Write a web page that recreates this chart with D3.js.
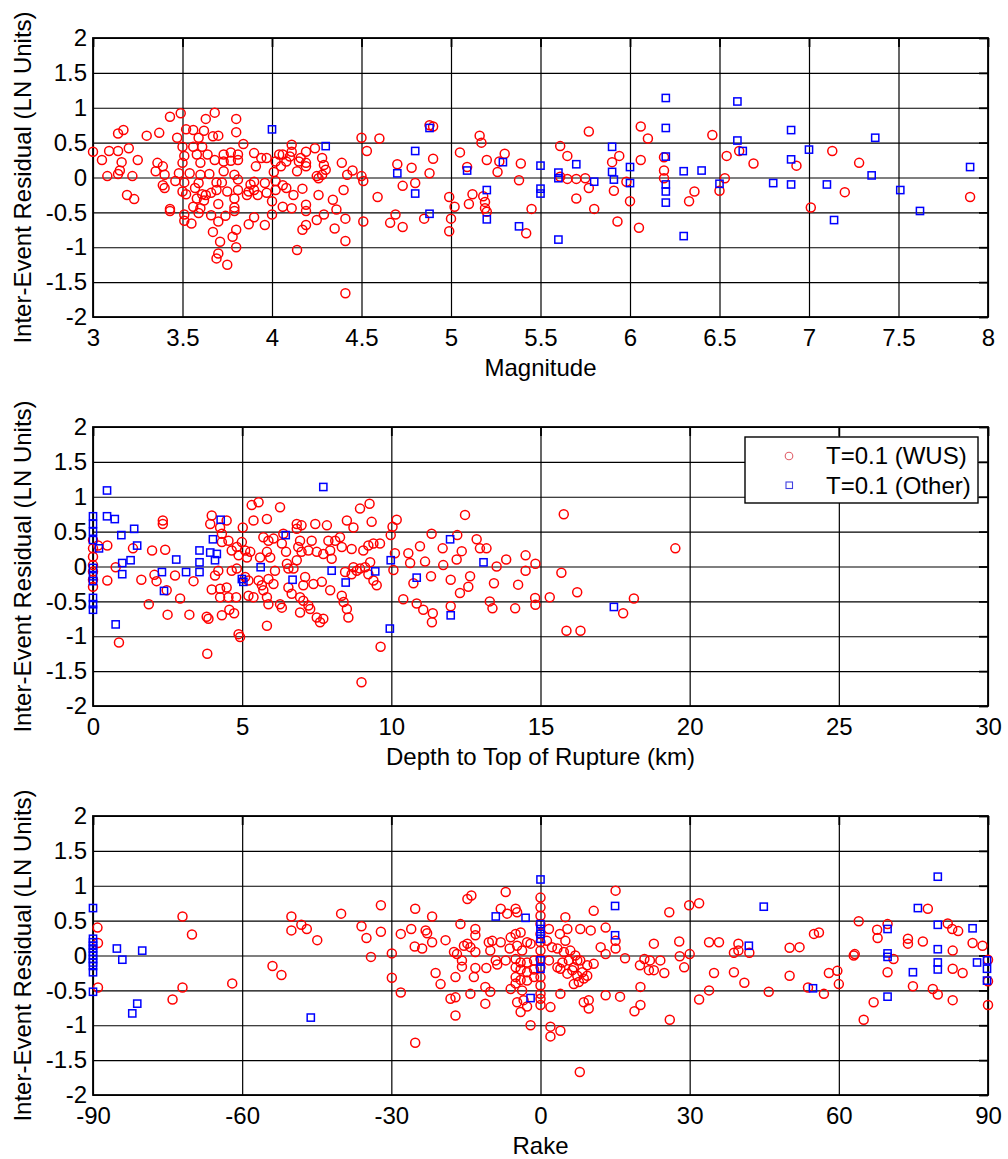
<!DOCTYPE html>
<html>
<head>
<meta charset="utf-8">
<script src="https://cdn.jsdelivr.net/npm/d3@7"></script>
<style>
  body { margin: 0; background: #fff; }
  svg text { font-family: 'Liberation Sans', Arial, sans-serif; }
</style>
</head>
<body>
<svg id="myGraph" width="1008" height="1159"></svg>
<script>
// residual axis shared by all three panels
var residualTicks = [-2, -1.5, -1, -0.5, 0, 0.5, 1, 1.5, 2];
var seriesNames = ['T=0.1 (WUS)', 'T=0.1 (Other)'];

// panel 1: magnitude
var magTicks = [3, 3.5, 4, 4.5, 5, 5.5, 6, 6.5, 7, 7.5, 8];
var magWus = [
  [3.0,0.37],[3.05,0.25],[3.08,0.02],[3.09,0.38],[3.14,0.38],[3.14,0.05],[3.15,0.1],[3.14,0.63],
  [3.17,0.68],[3.16,0.22],[3.19,-0.25],[3.23,-0.31],[3.2,0.42],[3.22,0.02],[3.25,0.25],[3.3,0.6],
  [3.43,0.87],[3.49,0.92],[3.68,0.93],[3.63,0.84],[3.8,0.84],[3.8,0.65],[3.37,0.64],[3.52,0.69],
  [3.56,0.68],[3.62,0.67],[3.47,0.57],[3.59,0.57],[3.67,0.59],[3.7,0.6],[3.5,0.44],[3.56,0.44],
  [3.61,0.44],[3.84,0.48],[4.11,0.47],[4.11,0.37],[4.19,0.37],[4.24,0.42],[3.51,0.31],[3.58,0.33],
  [3.64,0.33],[3.73,0.33],[3.77,0.36],[3.81,0.33],[3.9,0.35],[3.94,0.28],[3.97,0.28],[4.04,0.33],
  [4.06,0.33],[4.1,0.3],[4.16,0.28],[4.02,0.23],[4.08,0.23],[4.15,0.23],[4.19,0.21],[4.28,0.28],
  [4.29,0.18],[4.39,0.21],[3.36,0.21],[3.39,0.16],[3.5,0.21],[3.6,0.21],[3.68,0.25],[3.73,0.23],
  [3.77,0.24],[3.81,0.25],[3.91,0.16],[4.05,0.16],[4.14,0.09],[4.19,0.16],[4.3,0.11],[3.35,0.09],
  [3.4,0.04],[3.48,0.06],[3.54,0.06],[3.6,0.04],[3.65,0.05],[3.73,0.09],[3.79,0.04],[4.01,0.08],
  [4.25,0.02],[4.28,0.04],[3.39,-0.11],[3.46,-0.05],[3.51,-0.07],[3.59,-0.08],[3.69,-0.07],[3.72,-0.07],
  [3.81,-0.03],[3.88,-0.1],[3.9,-0.06],[3.96,-0.08],[4.02,-0.05],[4.06,-0.11],[4.26,-0.01],[4.42,0.04],
  [3.4,-0.15],[3.5,-0.2],[3.57,-0.15],[3.63,-0.25],[3.69,-0.18],[3.81,-0.18],[3.87,-0.2],[3.9,-0.18],
  [3.97,-0.22],[4.02,-0.18],[4.08,-0.15],[4.17,-0.16],[4.4,-0.18],[3.52,-0.24],[3.61,-0.24],[3.66,-0.22],
  [3.75,-0.2],[3.86,-0.25],[3.92,-0.25],[4.12,-0.25],[4.26,-0.25],[3.79,-0.3],[3.58,-0.3],[3.62,-0.33],
  [3.7,-0.38],[3.79,-0.43],[3.56,-0.42],[3.6,-0.44],[4.0,-0.34],[4.06,-0.42],[4.11,-0.44],[4.19,-0.39],
  [4.34,-0.32],[4.36,-0.46],[3.43,-0.45],[3.43,-0.48],[3.59,-0.51],[3.79,-0.48],[4.19,-0.48],[3.51,-0.53],
  [3.51,-0.62],[3.55,-0.66],[3.66,-0.54],[3.74,-0.55],[3.9,-0.57],[4.0,-0.53],[4.29,-0.53],[4.25,-0.61],
  [4.19,-0.68],[4.17,-0.75],[4.41,-0.59],[3.7,-0.63],[3.87,-0.67],[3.96,-0.68],[4.35,-0.73],[3.67,-0.78],
  [3.8,-0.75],[3.78,-0.85],[3.71,-0.92],[3.8,-1.0],[3.7,-1.09],[3.69,-1.16],[3.75,-1.25],[4.14,-1.04],
  [4.41,-0.91],[4.41,-1.66],
  [4.45,0.1],[4.5,0.57],[4.5,0.02],[4.51,-0.05],[4.51,-0.63],[4.53,0.38],[4.59,-0.28],[4.6,0.56],
  [4.66,-0.65],[4.69,-0.53],[4.7,0.19],[4.73,-0.12],[4.73,-0.71],[4.78,0.14],[4.8,-0.08],[4.85,-0.59],
  [4.88,0.75],[4.9,0.73],[4.88,0.06],[4.9,0.27],[4.99,-0.28],[5.0,-0.59],[4.99,-0.77],[5.02,-0.42],
  [5.05,0.36],[5.09,0.15],[5.1,-0.38],[5.12,-0.24],[5.16,0.6],[5.17,0.5],[5.18,-0.27],[5.19,-0.35],
  [5.19,-0.44],[5.2,-0.49],[5.2,0.25],[5.26,0.08],[5.3,0.34],[5.27,0.23],[5.39,0.2],[5.38,-0.04],
  [5.45,-0.45],[5.42,-0.8],[5.61,0.45],[5.65,0.31],[5.61,0.01],[5.65,-0.02],[5.7,-0.02],[5.75,-0.01],
  [5.77,0.66],[5.77,-0.15],[5.7,-0.3],[5.8,-0.45],[5.9,0.22],[5.94,0.31],[5.91,-0.19],[5.93,-0.63],
  [5.98,-0.06],[6.0,-0.34],[6.06,0.73],[6.1,0.56],[6.06,0.25],[6.05,-0.72],[6.19,0.29],[6.19,0.1],
  [6.19,-0.01],[6.33,-0.34],[6.36,-0.2],[6.46,0.61],[6.54,0.31],[6.53,-0.01],[6.5,-0.19],[6.61,0.38],
  [6.69,0.2],[6.93,0.17],[7.01,-0.43],[7.13,0.38],[7.2,-0.21],[7.28,0.21],[7.9,-0.28]
];
var magOther = [
  [4.0,0.69],[4.3,0.45],[4.7,0.06],[4.8,0.38],[4.8,-0.23],[4.88,0.71],[4.88,-0.52],[5.09,0.1],
  [5.2,-0.18],[5.2,-0.6],[5.29,0.22],[5.38,-0.7],[5.5,0.17],[5.5,-0.16],[5.5,-0.23],[5.6,0.07],
  [5.6,-0.01],[5.6,-0.89],[5.7,0.19],[5.8,-0.06],[5.9,0.44],[5.9,0.08],[5.91,-0.03],[6.0,0.15],
  [6.0,-0.08],[6.2,1.14],[6.2,0.71],[6.2,0.3],[6.2,-0.1],[6.2,-0.2],[6.2,-0.36],[6.3,0.09],
  [6.3,-0.84],[6.4,0.1],[6.5,-0.09],[6.6,1.09],[6.6,0.53],[6.63,0.38],[6.8,-0.08],[6.9,0.68],
  [6.9,0.26],[6.9,-0.1],[7.0,0.4],[7.1,-0.1],[7.14,-0.61],[7.35,0.03],[7.37,0.57],[7.51,-0.18],
  [7.62,-0.48],[7.9,0.15]
];

// panel 2: depth to top of rupture
var ztorTicks = [0, 5, 10, 15, 20, 25, 30];
var ztorWus = [
  [0,0.38],[0,0.26],[0,0.14],[0,0.02],[0,-0.07],[0,-0.19],[0,-0.29],[0.17,0.3],[0.48,0.3],
  [0.48,-0.2],[0.76,-0.01],[0.87,-1.09],[1.34,0.26],[1.62,-0.19],[1.87,-0.54],[1.98,0.23],
  [2.06,-0.12],[2.13,-0.21],
  [2.34,0.66],[2.34,0.61],[2.42,0.24],[2.75,-0.13],[2.47,-0.34],[2.92,-0.46],[2.5,-0.69],[3.23,-0.69],
  [3.37,-0.21],[3.81,-0.72],[3.87,-0.75],[4.32,-0.7],[4.57,-0.62],[4.73,-0.67],[3.98,0.73],[3.93,0.61],
  [4.26,0.56],[4.48,0.66],[4.32,0.47],[4.54,0.37],[4.32,0.35],[4.2,-0.06],[4.09,-0.13],[3.98,-0.33],
  [4.26,-0.32],[4.48,-0.3],[4.26,-0.44],[4.54,-0.44],[4.8,-0.44],[4.65,-0.06],[4.82,-0.03],[4.65,0.23],
  [4.82,0.28],[4.99,0.35],[5.1,0.23],[5.27,0.21],[4.88,0.16],[5.16,0.13],[5.02,0.56],[5.1,-0.15],
  [5.21,-0.2],[5.21,-0.42],[5.38,-0.44],[5.55,-0.2],[5.66,-0.27],[5.71,-0.34],[5.83,-0.44],[5.88,-0.54],
  [5.32,0.88],[5.55,0.92],[5.38,0.66],[5.83,0.68],[6.27,0.85],[5.6,0.13],[5.83,0.21],[5.94,0.13],
  [5.71,0.42],[5.88,0.37],[6.05,0.4],[5.88,-0.18],[6.05,-0.25],[6.1,-0.06],[6.38,0.47],[6.33,0.33],
  [6.5,0.04],[6.55,-0.03],[6.47,0.21],[6.27,-0.54],[6.33,-0.59],[6.55,-0.3],[6.66,-0.39],[6.83,0.61],
  [6.99,0.59],[6.83,0.54],[6.94,0.37],[6.88,0.28],[6.83,0.09],[6.72,-0.03],[6.99,0.21],[7.22,0.23],
  [7.11,-0.15],[7.05,-0.27],[6.94,-0.44],[7.05,-0.49],[7.22,-0.56],[7.28,-0.61],[6.94,-0.66],[7.45,0.61],
  [7.33,0.37],[7.5,0.21],[7.39,-0.25],[7.67,-0.22],[7.5,-0.73],[7.72,-0.75],[7.61,-0.8],[7.84,0.59],
  [8.12,0.37],[7.89,0.37],[7.72,0.18],[7.95,0.23],[8.0,0.11],[8.28,0.42],[8.34,0.28],[7.95,-0.34],
  [8.34,-0.42],[8.4,-0.51],[8.51,-0.61],[8.56,-0.73],[8.45,-0.08],[8.67,-0.11],[8.84,-0.06],[8.73,-0.01],
  [8.95,-0.03],[9.12,-0.01],[8.51,0.66],[8.73,0.56],[8.95,0.83],[9.27,0.9],[9.34,0.64],[8.67,0.25],
  [9.06,0.23],[9.23,0.3],[9.4,0.33],[9.62,0.33],[9.23,-0.11],[9.4,-0.2],[9.51,-0.27],[9.29,0.06],
  [5.83,-0.85],[4.93,-1.01],[4.88,-0.97],[3.83,-1.25],[9.0,-1.66],[9.64,-1.15],
  [9.98,0.45],[10.04,0.57],[10.18,0.67],[10.12,0.19],[10.07,-0.05],[10.4,-0.47],[10.57,0.19],[10.63,0.05],
  [10.74,-0.24],[10.85,-0.53],[10.96,0.29],[11.07,-0.62],[11.13,0.07],[11.35,0.47],[11.33,-0.14],[11.39,-0.67],
  [11.36,-0.8],[11.72,0.26],[11.74,0.02],[11.99,-0.19],[11.99,-0.57],[12.19,0.1],[12.21,0.45],[12.3,-0.38],
  [12.47,0.74],[12.36,0.22],[12.58,-0.29],[12.64,-0.14],[12.86,0.39],[12.97,0.26],[13.19,0.26],[13.3,-0.5],
  [13.39,-0.6],[13.44,-0.24],[13.53,0],[13.85,0.1],[14.15,-0.6],[14.25,-0.26],[14.5,0.16],[14.83,0.04],
  [14.5,-0.06],[14.82,-0.45],[14.83,-0.55],[15.31,-0.44],[15.78,0.75],[15.7,-0.09],[16.23,-0.37],[15.87,-0.92],
  [16.34,-0.92],[17.77,-0.67],[18.13,-0.46],[19.52,0.26]
];
var ztorOther = [
  [0,0.72],[0,0.61],[0,0.5],[0,0.38],[0,-0.02],[0,-0.14],[0,-0.21],[0,-0.45],[0,-0.54],[0,-0.62],
  [0.2,0.26],[0.47,1.09],[0.47,0.72],[0.73,0.68],[0.95,0.45],[0.98,0.05],[0.98,-0.11],[0.76,-0.83],
  [1.26,0.09],[1.38,0.54],[1.48,0.3],[2.31,-0.08],[2.38,-0.35],[2.79,0.1],[3.12,-0.08],[3.57,-0.08],
  [3.57,0.23],[3.57,0.06],[3.93,0.2],[4.15,0.18],[4.09,0.09],[4.02,0.39],[4.28,0.67],[4.99,-0.18],
  [5.04,-0.22],[5.62,-0.01],[6.46,0.45],[6.69,-0.19],[7.72,1.14],[8.0,-0.06],[8.47,-0.23],[9.46,-0.07],
  [9.98,0.09],[9.95,-0.89],[10.85,-0.16],[11.97,0.39],[11.99,-0.7],[13.09,0.06],[17.46,-0.58]
];

// panel 3: rake
var rakeTicks = [-90, -60, -30, 0, 30, 60, 90];
var rakeWus = [
  [-89.1,0.4],[-89.0,0.18],[-89.0,-0.46],[-72.0,0.56],[-70.1,0.3],[-72.0,-0.46],[-74.0,-0.63],[-62.0,-0.4],
  [-53.9,-0.15],[-52.1,-0.28],[-50.1,0.56],[-50.1,0.36],[-48.1,0.44],[-47.0,0.38],[-44.9,0.22],[-40.1,0.6],
  [-36.0,0.42],[-35.0,0.25],[-34.1,-0.02],[-32.1,0.72],[-32.1,0.34],[-29.9,0.03],[-29.9,-0.32],[-28.1,0.31],
  [-28.1,-0.53],[-26.0,0.38],[-25.2,0.67],[-25.2,-1.25],[-25.3,0.13],
  [-14.7,0.81],[-13.9,0.86],[-7.0,0.91],[-21.8,0.56],[-16.1,0.45],[-13.1,0.38],[-23.1,0.36],[-22.8,0.32],
  [-21.8,0.19],[-19.1,0.22],[-23.8,0.1],[-17.4,0.05],[-16.8,0.02],[-15.4,0.14],[-14.7,0.17],[-14.1,0.12],
  [-13.1,0.29],[-13.1,0.05],[-15.8,-0.07],[-15.8,-0.16],[-21.1,-0.25],[-20.1,-0.41],[-17.1,-0.31],[-13.4,-0.31],
  [-13.1,-0.18],[-10.4,0.19],[-9.7,0.21],[-8.0,0.19],[-10.1,0.07],[-9.0,-0.07],[-8.7,-0.13],[-10.9,-0.18],
  [-8.0,0.67],[-6.7,0.6],[-5.0,0.67],[-4.7,0.62],[-6.0,0.26],[-5.0,0.31],[-4.0,0.33],[-6.2,0.1],
  [-4.7,0.14],[-3.7,0.07],[-2.7,0.19],[-2.0,0.17],[-7.0,-0.07],[-5.0,-0.05],[-4.0,-0.1],[-2.7,-0.1],
  [-1.3,-0.07],[-5.0,-0.17],[-4.0,-0.2],[-2.7,-0.24],[-1.3,-0.2],[-5.0,-0.31],[-4.0,-0.35],[-2.7,-0.36],
  [-1.3,-0.31],[-11.1,-0.45],[-10.1,-0.52],[-6.0,-0.48],[-5.0,-0.4],[-3.7,-0.5],[-14.1,-0.55],[-18.1,-0.62],
  [-17.1,-0.6],[-11.1,-0.69],[-17.1,-0.86],[-4.0,-0.81],[-2.7,-0.73],[-4.7,-0.67],[-3.4,-0.64],[-2.0,-1.0],
  [0,0.83],[0,0.69],[0,0.57],[0,0.45],[0,0.31],[0,0.19],[0,0.07],[0,-0.05],[0,-0.17],[0,-0.31],
  [0,-0.43],[0,-0.55],[0,-0.62],[0,-0.71],[2.0,-0.74],[2.0,-1.02],[1.3,0.21],[2.3,0.12],[3.4,0.1],
  [4.7,0.05],[1.7,0.38],[3.9,0.31],[5.0,0.55],[5.4,0.38],[1.7,-0.07],[3.4,-0.17],[4.4,-0.1],[5.7,-0.07],
  [6.7,-0.17],[8.0,-0.07],[9.4,-0.14],[10.7,-0.12],[6.0,0.07],[7.0,0],[7.4,-0.07],[4.0,-0.19],
  [5.4,-0.26],[6.4,-0.21],[7.4,-0.29],[8.4,-0.24],[9.4,-0.29],[6.7,-0.41],[7.7,-0.38],[8.7,-0.33],
  [4.0,-0.55],[8.7,-0.67],[9.7,-0.64],[9.7,-0.76],[5.0,0.21],[8.0,0.38],[10.1,0.36],[10.7,0.64],
  [2.0,-1.16],[4.0,-1.08],[7.9,-1.67],
  [12.1,0.12],[13.1,0.4],[13.1,0.02],[13.1,-0.57],[15.1,0.93],[15.1,0.21],[15.1,0.1],[16.0,-0.59],
  [17.0,-0.04],[18.9,-0.8],[20.1,-0.45],[20.1,-0.71],[20.0,-0.14],[20.9,-0.05],[21.8,-0.21],[22.0,-0.07],
  [22.8,0.17],[22.8,-0.21],[24.1,-0.07],[24.9,-0.25],[25.9,0.62],[26.0,-0.92],[27.9,0.2],[28.0,-0.01],
  [28.9,-0.17],[30.0,0.02],[29.9,0.72],[31.9,0.75],[31.9,-0.63],[33.9,-0.5],[33.9,0.19],[35.9,0.19],
  [34.9,-0.25],[38.9,0.04],[38.9,-0.24],[39.8,0.17],[39.8,0.07],[41.0,-0.39],[42.0,0.04],[45.9,-0.52],
  [50.1,0.11],[50.1,-0.29],[52.1,0.12],[53.8,-0.46],[55.0,0.31],[56.0,0.33],[57.0,-0.55],[58.0,-0.25],
  [59.7,-0.22],[60.0,-0.41],[63.0,0],[63.2,0.02],[64.0,0.49],[65.0,-0.92],[67.0,-0.67],[67.7,0.37],
  [67.8,0.25],[69.8,0.45],[69.8,-0.24],[71.0,-0.05],[73.9,0.24],[73.9,0.17],[74.9,-0.44],[76.9,0.2],
  [77.9,0.67],[78.9,-0.48],[79.9,-0.56],[81.9,0.46],[82.8,0.38],[84.0,0.35],[82.9,0.07],[82.9,-0.19],
  [84.9,-0.25],[82.9,-0.64],[86.9,0.18],[88.9,0.14],[90.0,-0.06],[90.0,-0.71],[90.0,-0.37]
];
var rakeOther = [
  [-90,0.68],[-90,0.24],[-90,0.19],[-90,0.14],[-90,0.1],[-90,0.05],[-90,0],[-90,-0.05],
  [-90,-0.1],[-90,-0.15],[-90,-0.24],[-90,-0.52],[-85.2,0.1],[-84.1,-0.06],[-80.1,0.07],[-82.1,-0.83],
  [-81.1,-0.69],[-46.2,-0.89],[-9.0,0.56],[-3.0,0.54],[-2.0,-0.61],[0,1.09],[0,0.45],[0,0.38],
  [0,0.31],[0,0.24],[0,-0.07],[0,-0.19],[15.0,0.71],[15.0,0.29],[41.9,0.14],[44.9,0.7],
  [54.8,-0.47],[69.8,0.38],[69.8,0.03],[69.8,-0.02],[69.8,-0.59],[74.9,-0.24],[75.9,0.68],[79.9,1.13],
  [79.9,0.44],[79.9,0.09],[79.9,-0.1],[79.9,-0.2],[86.9,0.39],[87.8,-0.1],[89.8,-0.07],[89.8,-0.19],
  [89.8,-0.36]
];

var plotLeft = 93;
var plotWidth = 895;
var plotHeight = 279;
var fontSize = '24px';
var fmt = function(d) { return String(d); };

function drawPanel(top, xTicks, xLabel, wus, other, withLegend) {
  var svg = d3.select('#myGraph');
  var g = svg.append('g')
    .attr('transform', 'translate(' + plotLeft + ',' + top + ')');

  var x = d3.scaleLinear()
    .domain([xTicks[0], xTicks[xTicks.length - 1]])
    .range([0, plotWidth]);
  var y = d3.scaleLinear()
    .domain([-2, 2])
    .range([plotHeight, 0]);

  // grid + labels
  var xAxis = g.append('g')
    .attr('transform', 'translate(0,' + plotHeight + ')')
    .call(d3.axisBottom(x).tickValues(xTicks).tickFormat(fmt)
      .tickSize(-plotHeight).tickPadding(12));
  var yAxis = g.append('g')
    .call(d3.axisLeft(y).tickValues(residualTicks).tickFormat(fmt)
      .tickSize(-plotWidth).tickPadding(6));
  [xAxis, yAxis].forEach(function(a) {
    a.select('.domain').remove();
    a.selectAll('line').attr('stroke', '#000').attr('stroke-width', 1.2);
    a.selectAll('text').attr('fill', '#000').style('font-size', fontSize);
  });

  // inward ticks on the right and top edges
  g.append('g')
    .attr('transform', 'translate(' + plotWidth + ',0)')
    .call(d3.axisRight(y).tickValues(residualTicks).tickSize(-9).tickFormat(''))
    .call(function(a) { a.select('.domain').remove(); })
    .selectAll('line').attr('stroke', '#000').attr('stroke-width', 1.8);
  g.append('g')
    .call(d3.axisTop(x).tickValues(xTicks).tickSize(-9).tickFormat(''))
    .call(function(a) { a.select('.domain').remove(); })
    .selectAll('line').attr('stroke', '#000').attr('stroke-width', 1.8);

  g.append('rect')
    .attr('width', plotWidth)
    .attr('height', plotHeight)
    .attr('fill', 'none')
    .attr('stroke', '#000')
    .attr('stroke-width', 1.8);

  g.selectAll('circle.wus')
    .data(wus)
    .enter()
    .append('circle')
    .attr('class', 'wus')
    .attr('cx', function(d) { return x(d[0]); })
    .attr('cy', function(d) { return y(d[1]); })
    .attr('r', 4.5)
    .attr('fill', 'none')
    .attr('stroke', '#ff0000')
    .attr('stroke-width', 1.5);

  g.selectAll('rect.other')
    .data(other)
    .enter()
    .append('rect')
    .attr('class', 'other')
    .attr('x', function(d) { return x(d[0]) - 3.6; })
    .attr('y', function(d) { return y(d[1]) - 3.6; })
    .attr('width', 7.2)
    .attr('height', 7.2)
    .attr('fill', 'none')
    .attr('stroke', '#0000ff')
    .attr('stroke-width', 1.5);

  svg.append('text')
    .attr('x', plotLeft + plotWidth / 2)
    .attr('y', top + plotHeight + 59)
    .attr('text-anchor', 'middle')
    .style('font-size', fontSize)
    .text(xLabel);

  svg.append('text')
    .attr('transform', 'translate(31,' + (top + plotHeight / 2) + ') rotate(-90)')
    .attr('text-anchor', 'middle')
    .style('font-size', fontSize)
    .text('Inter-Event Residual (LN Units)');

  if (withLegend) {
    var lg = svg.append('g').attr('transform', 'translate(745,437)');
    lg.append('rect')
      .attr('width', 233).attr('height', 66)
      .attr('fill', '#fff').attr('stroke', '#000').attr('stroke-width', 1.4);
    lg.append('circle')
      .attr('cx', 44).attr('cy', 19).attr('r', 3.8)
      .attr('fill', 'none').attr('stroke', '#e0606a').attr('stroke-width', 1.1);
    lg.append('rect')
      .attr('x', 41).attr('y', 45).attr('width', 6.5).attr('height', 6.5)
      .attr('fill', 'none').attr('stroke', '#4040e0').attr('stroke-width', 1.1);
    lg.selectAll('text')
      .data(seriesNames)
      .enter()
      .append('text')
      .attr('x', 81)
      .attr('y', function(d, i) { return 27 + i * 30; })
      .style('font-size', fontSize)
      .text(function(d) { return d; });
  }
}

drawPanel(38, magTicks, 'Magnitude', magWus, magOther, false);
drawPanel(427, ztorTicks, 'Depth to Top of Rupture (km)', ztorWus, ztorOther, true);
drawPanel(816, rakeTicks, 'Rake', rakeWus, rakeOther, false);
</script>
</body>
</html>
